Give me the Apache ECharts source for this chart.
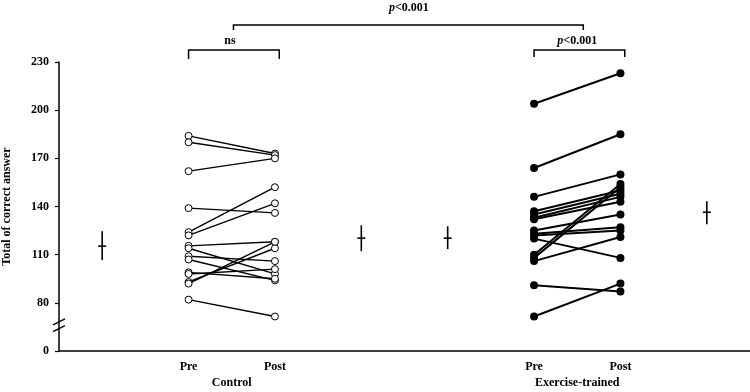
<!DOCTYPE html>
<html>
<head>
<meta charset="utf-8">
<script src="https://cdn.jsdelivr.net/npm/echarts@6/dist/echarts.min.js"></script>
<style>
  html, body { margin: 0; padding: 0; background: #fff; }
  #chart { width: 750px; height: 392px; }
</style>
</head>
<body>
<div id="chart"></div>
<script>
// subject values, pre and post, in the same order
const ctrlPre = [184, 180, 162, 139, 124, 122, 115.5, 114, 109, 107, 99, 98, 93, 92, 82];
const ctrlPost = [173, 172, 170, 136, 152, 142, 118, 98, 106, 94, 95, 101, 114, 118, 71.5];
const exPre = [204, 164, 146, 137, 135, 133, 132, 125, 123, 122, 120, 110, 108, 106, 91, 71.5];
const exPost = [223, 185, 160, 150, 148, 146, 143, 135, 127, 125, 108, 154, 152, 121, 87, 92];

// group summaries (centre and bar ends), drawn beside each column
const sumPos = [0, 3, 4, 7];
const sumMid = [115.3, 120.3, 120.3, 136.4];
const sumLow = [106.7, 112.2, 113.5, 129];
const sumHigh = [124.6, 128.3, 127.7, 143.2];

// axis labels
const xLabelPos = [1, 2, 5, 6];
const xLabels = ['Pre', 'Post', 'Pre', 'Post'];
const groupPos = [1.5, 5.5];
const groupLabels = ['Control', 'Exercise-trained'];
const yTicks = [50, 80, 110, 140, 170, 200, 230];
const yTickLabels = ['0', '80', '110', '140', '170', '200', '230'];

const serif = '"Liberation Serif", "Times New Roman", serif';
const txt = { fontFamily: serif, fontWeight: 'bold', fontSize: 12, color: '#000' };

const chart = echarts.init(document.getElementById('chart'));

const subjectSeries = [];
ctrlPre.forEach((v, i) => {
  subjectSeries.push({
    type: 'line',
    data: [[1, v], [2, ctrlPost[i]]],
    symbol: 'circle',
    symbolSize: 7,
    itemStyle: { color: '#fff', borderColor: '#000', borderWidth: 1 },
    lineStyle: { color: '#000', width: 1.4 },
    z: 3,
    animation: false,
  });
});
exPre.forEach((v, i) => {
  subjectSeries.push({
    type: 'line',
    data: [[5, v], [6, exPost[i]]],
    symbol: 'circle',
    symbolSize: 8,
    itemStyle: { color: '#000', borderWidth: 0 },
    lineStyle: { color: '#000', width: 2 },
    z: 3,
    animation: false,
  });
});

const pLabel = {
  text: '{i|p}{b|<0.001}',
  rich: {
    i: { fontFamily: serif, fontWeight: 'bold', fontStyle: 'italic', fontSize: 12, fill: '#000' },
    b: { fontFamily: serif, fontWeight: 'bold', fontSize: 12, fill: '#000' },
  },
};

const option = {
  animation: false,
  grid: { left: 59, right: 0, top: 62, bottom: 41, outerBoundsMode: 'none', containLabel: false },
  xAxis: [
    {
      type: 'value',
      min: -0.5,
      max: 7.5,
      splitLine: { show: false },
      axisTick: { show: false },
      axisLine: { onZero: false, lineStyle: { color: '#000', width: 1.5 } },
      axisLabel: {
        ...txt,
        margin: 10,
        customValues: xLabelPos,
        formatter: (v) => xLabels[xLabelPos.indexOf(v)] || '',
      },
    },
    {
      type: 'value',
      position: 'bottom',
      min: -0.5,
      max: 7.5,
      offset: 16,
      splitLine: { show: false },
      axisTick: { show: false },
      axisLine: { show: false, onZero: false },
      axisLabel: {
        ...txt,
        margin: 10,
        customValues: groupPos,
        formatter: (v) => groupLabels[groupPos.indexOf(v)] || '',
      },
    },
  ],
  yAxis: {
    type: 'value',
    min: 50,
    max: 230,
    interval: 30,
    name: 'Total of correct answer',
    nameLocation: 'middle',
    nameRotate: 90,
    nameGap: 46,
    nameTextStyle: { ...txt, fontSize: 12 },
    splitLine: { show: false },
    axisLine: { show: true, onZero: false, lineStyle: { color: '#000', width: 1.5 } },
    axisTick: { show: true, length: 4, lineStyle: { color: '#000', width: 1.2 } },
    axisLabel: {
      ...txt,
      margin: 10,
      formatter: (v) => yTickLabels[yTicks.indexOf(v)],
    },
  },
  series: [
    ...subjectSeries,
    {
      type: 'custom',
      data: sumPos.map((x, i) => [x, sumLow[i], sumMid[i], sumHigh[i]]),
      renderItem: (params, api) => {
        const top = api.coord([api.value(0), api.value(3)]);
        const bot = api.coord([api.value(0), api.value(1)]);
        const mid = api.coord([api.value(0), api.value(2)]);
        const st = { stroke: '#000', lineWidth: 1.6 };
        return {
          type: 'group',
          children: [
            { type: 'line', shape: { x1: top[0], y1: top[1], x2: bot[0], y2: bot[1] }, style: st },
            { type: 'line', shape: { x1: mid[0] - 4, y1: mid[1], x2: mid[0] + 4, y2: mid[1] }, style: st },
          ],
        };
      },
      z: 4,
      animation: false,
    },
    {
      // significance brackets and axis break
      type: 'custom',
      data: [[0]],
      clip: false,
      silent: true,
      renderItem: (params, api) => {
        const st = { stroke: '#000', lineWidth: 1.5, fill: null };
        const bracket = (x1, x2, yv, drop) => {
          const a = api.coord([x1, yv]);
          const b = api.coord([x2, yv]);
          return {
            type: 'polyline',
            shape: { points: [[a[0], a[1] + drop], [a[0], a[1]], [b[0], b[1]], [b[0], b[1] + drop]] },
            style: st,
          };
        };
        const label = (x, yv, gap, extra) => {
          const p = api.coord([x, yv]);
          return {
            type: 'text',
            style: Object.assign({
              x: p[0], y: p[1] - gap, align: 'center', verticalAlign: 'bottom',
              fill: '#000', font: 'bold 12px ' + serif,
            }, extra),
          };
        };
        const brk = (yv) => {
          const p = api.coord([-0.5, yv]);
          return {
            type: 'line',
            shape: { x1: p[0] - 6, y1: p[1] + 3, x2: p[0] + 6, y2: p[1] - 3 },
            style: { stroke: '#000', lineWidth: 1.4 },
          };
        };
        return {
          type: 'group',
          children: [
            bracket(1, 2.05, 237.5, 9),
            label(1.48, 237.5, 3, { text: 'ns' }),
            bracket(5, 6.05, 237.5, 7),
            label(5.5, 237.5, 3, pLabel),
            bracket(1.52, 5.57, 253, 5),
            label(3.55, 253, 11, pLabel),
            brk(68.2),
            brk(63.9),
          ],
        };
      },
      z: 5,
      animation: false,
    },
  ],
};

chart.setOption(option);
</script>
</body>
</html>
